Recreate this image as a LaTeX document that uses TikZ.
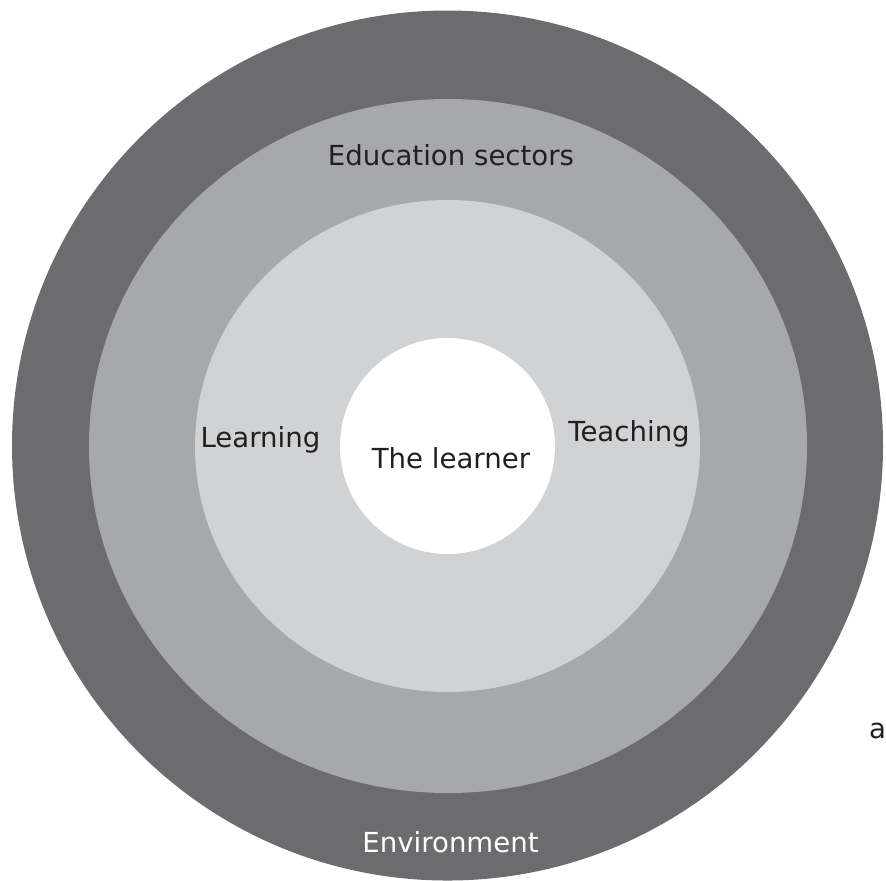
\documentclass[tikz,border=0pt]{standalone}
\usepackage{fontspec}
\setmainfont{DejaVu Sans}
\usetikzlibrary{positioning,shapes.geometric}
\definecolor{ringdark}{RGB}{108,108,110}
\definecolor{ringmid}{RGB}{167,168,171}
\definecolor{ringlight}{RGB}{209,210,212}
\definecolor{labelink}{RGB}{35,31,32}
\tikzstyle{ring} = [ellipse, inner sep=0pt, draw=none]
\tikzstyle{label} = [anchor=base, inner sep=0pt, text=labelink, font=\fontsize{13.8}{16}\selectfont]

\begin{document}
\begin{tikzpicture}[x=0.5pt, y=-0.5pt]
\useasboundingbox (0,0) rectangle (886,880);

% Rings, outside in
\node (Environment) [ring, fill=ringdark, minimum width=435.5pt, minimum height=435pt] at (447.5,445.5) {};
\node (Education_Sectors) [ring, fill=ringmid, minimum width=359pt, minimum height=347pt] at (448,446) {};
\node (Learning_Teaching) [ring, fill=ringlight, minimum width=252.5pt, minimum height=246pt] at (447.5,446) {};
\node (Learner) [ring, fill=white, minimum width=107.5pt, minimum height=108pt] at (447.5,446) {};

% Labels
\node (Education_Label) [label] at (451,165) {Education sectors};
\node (Learning_Label) [label] at (260.5,447) {Learning};
\node (Teaching_Label) [label] at (629,441) {Teaching};
\node (Learner_Label) [label] at (451,468) {The learner};
\node (Environment_Label) [label, text=white] at (450.5,852) {Environment};
\node (Side_Label) [label] at (877.5,738) {a};

\end{tikzpicture}
\end{document}
